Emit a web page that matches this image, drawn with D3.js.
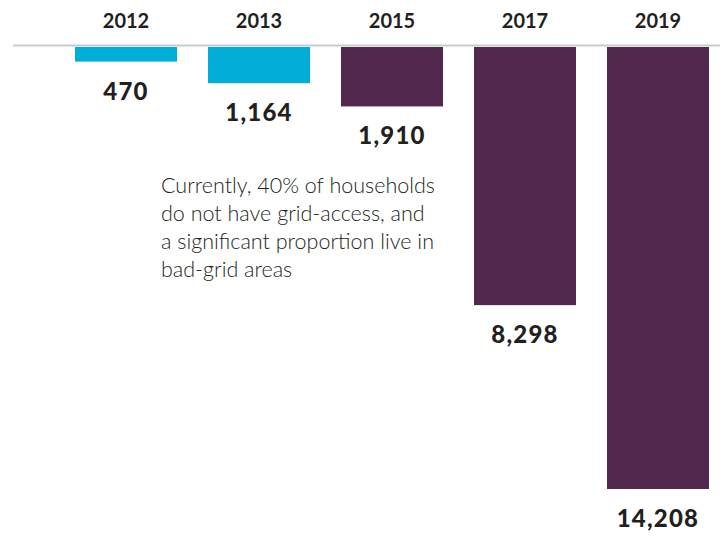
<!DOCTYPE html>
<html>
<head>
<meta charset="utf-8">
<script src="https://cdn.jsdelivr.net/npm/d3@7"></script>
<style>
  body { margin: 0; background: #fff; }
  svg { display: block; }
  text { font-family: Lato, "Open Sans", sans-serif; }
</style>
</head>
<body>
<svg width="720" height="537"></svg>
<script>
var years = ["2012", "2013", "2015", "2017", "2019"];
var values = [470, 1164, 1910, 8298, 14208];
var barColors = ["#00aed8", "#00aed8", "#52284f", "#52284f", "#52284f"];
var noteLines = [
    "Currently, 40% of households",
    "do not have grid-access, and",
    "a significant proportion live in",
    "bad-grid areas"
];

var svg = d3.select("svg"),
    width = +svg.attr("width"),
    height = +svg.attr("height");

var data = years.map(function(y, i) { return { year: y, value: values[i], color: barColors[i] }; });

var x = d3.scaleBand()
    .domain(years)
    .range([75, 709])
    .paddingInner(0.233)
    .paddingOuter(0);

var y = d3.scaleLinear()
    .domain([0, 14208])
    .range([47, 489]);

var fmt = d3.format(",");

// baseline
svg.append("line")
    .attr("x1", 13)
    .attr("x2", width)
    .attr("y1", 45.5)
    .attr("y2", 45.5)
    .attr("stroke", "#c5ccc9")
    .attr("stroke-width", 2);

// year labels on top
svg.append("g")
    .selectAll("text")
    .data(data)
    .enter().append("text")
    .attr("x", function(d) { return x(d.year) + x.bandwidth() / 2; })
    .attr("y", 28)
    .attr("text-anchor", "middle")
    .attr("font-size", 20)
    .attr("font-weight", 700)
    .attr("fill", "#231f20")
    .text(function(d) { return d.year; });

// bars hanging down
svg.append("g")
    .selectAll("rect")
    .data(data)
    .enter().append("rect")
    .attr("x", function(d) { return x(d.year); })
    .attr("y", y(0))
    .attr("width", x.bandwidth())
    .attr("height", function(d) { return y(d.value) - y(0); })
    .attr("fill", function(d) { return d.color; });

// value labels under bars
svg.append("g")
    .selectAll("text")
    .data(data)
    .enter().append("text")
    .attr("x", function(d) { return x(d.year) + x.bandwidth() / 2; })
    .attr("y", function(d) { return y(d.value) + 38; })
    .attr("text-anchor", "middle")
    .attr("font-size", 24)
    .attr("font-weight", 900)
    .attr("letter-spacing", 1.2)
    .attr("fill", "#231f20")
    .text(function(d) { return fmt(d.value); });

// note
svg.append("text")
    .attr("x", 161)
    .attr("y", 193)
    .attr("font-size", 21.5)
    .attr("font-weight", 300)
    .attr("fill", "#231f20")
    .selectAll("tspan")
    .data(noteLines)
    .enter().append("tspan")
    .attr("x", 161)
    .attr("dy", function(d, i) { return i ? 28 : 0; })
    .text(function(d) { return d; });
</script>
</body>
</html>
